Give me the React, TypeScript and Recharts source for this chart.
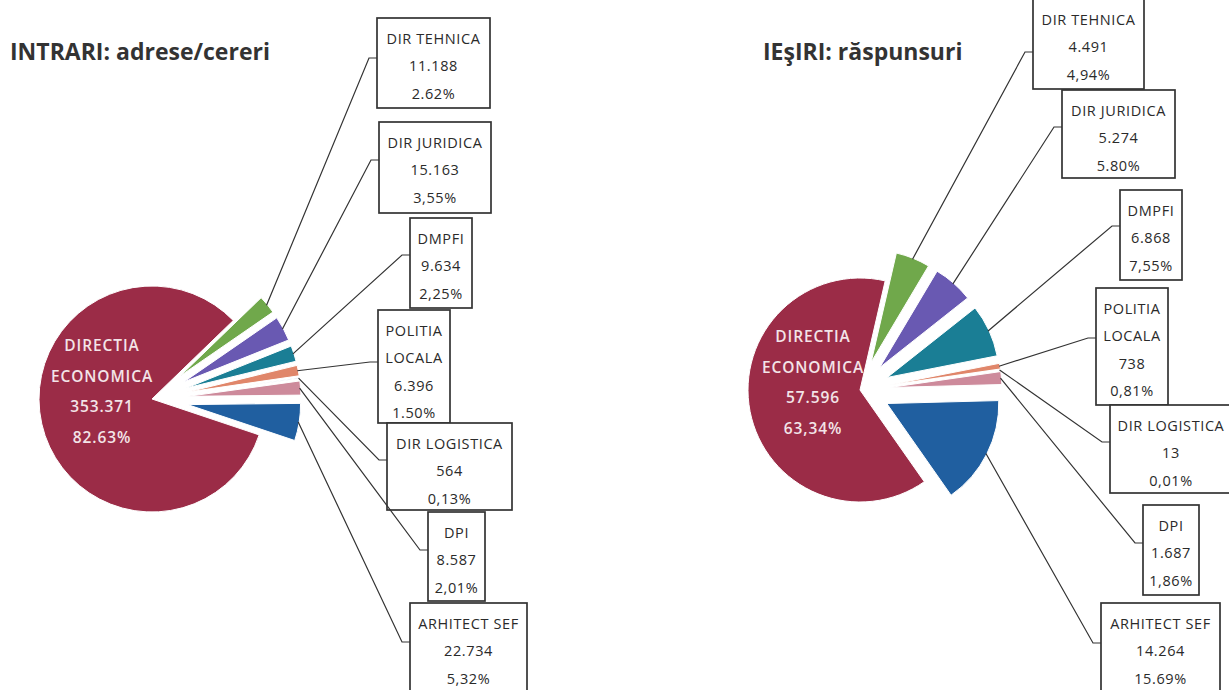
import React from 'react'
import { PieChart, Pie, Cell } from 'recharts'

const units = ['DIR TEHNICA', 'DIR JURIDICA', 'DMPFI', 'POLITIA LOCALA', 'DIR LOGISTICA', 'DPI', 'ARHITECT SEF', 'DIRECTIA ECONOMICA']
const intrari = [11188, 15163, 9634, 6396, 564, 8587, 22734, 353371]
const intrariPct = ['2.62%', '3,55%', '2,25%', '1.50%', '0,13%', '2,01%', '5,32%', '82.63%']
const iesiri = [4491, 5274, 6868, 738, 13, 1687, 14264, 57596]
const iesiriPct = ['4,94%', '5.80%', '7,55%', '0,81%', '0,01%', '1,86%', '15.69%', '63,34%']

const colors = ['#70a84b', '#6959b2', '#1a7e95', '#e0866a', '#a9b9d6', '#cd8a9b', '#205fa0', '#9b2c47']
// names that break onto two lines
const wrapped = [3, 7]

type Box = { x: number; y: number; w: number; h: number; ay: number }

const leftBoxes: Box[] = [
  { x: 377, y: 18, w: 113, h: 90, ay: 58 },
  { x: 379, y: 122, w: 112, h: 91, ay: 160 },
  { x: 410, y: 218, w: 62, h: 90, ay: 255 },
  { x: 378, y: 310, w: 72, h: 113, ay: 362 },
  { x: 387, y: 423, w: 125, h: 87, ay: 460 },
  { x: 428, y: 512, w: 57, h: 89, ay: 550 },
  { x: 410, y: 603, w: 117, h: 92, ay: 642 },
]

const rightBoxes: Box[] = [
  { x: 1033, y: -1, w: 111, h: 90, ay: 52 },
  { x: 1062, y: 90, w: 113, h: 88, ay: 127 },
  { x: 1120, y: 190, w: 62, h: 90, ay: 226 },
  { x: 1096, y: 288, w: 72, h: 117, ay: 338 },
  { x: 1110, y: 405, w: 122, h: 88, ay: 442 },
  { x: 1143, y: 505, w: 56, h: 90, ay: 543 },
  { x: 1101, y: 603, w: 119, h: 92, ay: 643 },
]

const sides = [
  {
    key: 'in', title: 'INTRARI: adrese/cereri', tx: 10, values: intrari, pct: intrariPct,
    cx: 152, cy: 399, r: 113, off: 36, start: 44, boxes: leftBoxes, ldx: -50, ldy: -8,
  },
  {
    key: 'out', title: 'IEşIRI: răspunsuri', tx: 763, values: iesiri, pct: iesiriPct,
    cx: 860, cy: 390, r: 112, off: 30, start: 77, boxes: rightBoxes, ldx: -47, ldy: -8,
  },
]

const RAD = Math.PI / 180
const FONT = '"Open Sans", "DejaVu Sans", sans-serif'

function fmt(n: number) {
  return String(n).replace(/\B(?=(\d{3})+(?!\d))/g, '.')
}

function nameLines(i: number) {
  return wrapped.includes(i) ? units[i].split(' ') : [units[i]]
}

function midAngles(values: number[], start: number) {
  const total = values.reduce((a, b) => a + b, 0)
  let acc = 0
  return values.map((v) => {
    const a0 = start - (360 * acc) / total
    acc += v
    const a1 = start - (360 * acc) / total
    return (a0 + a1) / 2
  })
}

function Callout({ p, box, lines }: { p: any; box: Box; lines: string[] }) {
  const sx = p.cx + (p.outerRadius - 1) * Math.cos(-p.midAngle * RAD)
  const sy = p.cy + (p.outerRadius - 1) * Math.sin(-p.midAngle * RAD)
  return (
    <g>
      <polyline
        points={`${sx},${sy} ${box.x - 8},${box.ay} ${box.x},${box.ay}`}
        fill="none"
        stroke="#333"
        strokeWidth={1.2}
      />
      <rect x={box.x} y={box.y} width={box.w} height={box.h} fill="#fff" stroke="#333" strokeWidth={1.7} />
      {lines.map((t, k) => (
        <text
          key={k}
          x={box.x + box.w / 2}
          y={box.y + 20 + k * 27.5}
          textAnchor="middle"
          dominantBaseline="central"
          fontFamily={FONT}
          fontSize={14.5}
          letterSpacing={0.6}
          fill="#2a2a2a"
        >
          {t}
        </text>
      ))}
    </g>
  )
}

function CenterLabel({ p, dx, dy, lines }: { p: any; dx: number; dy: number; lines: string[] }) {
  const n = lines.length
  return (
    <g>
      {lines.map((t, k) => (
        <text
          key={k}
          x={p.cx + dx}
          y={p.cy + dy + (k - (n - 1) / 2) * 30.5}
          textAnchor="middle"
          dominantBaseline="central"
          fontFamily={FONT}
          fontSize={15.5}
          fontWeight={600}
          letterSpacing={0.9}
          fill="#f3e4e8"
        >
          {t}
        </text>
      ))}
    </g>
  )
}

export default function App() {
  return (
    <div style={{ position: 'absolute', left: 0, top: 0, width: 1229, height: 690, background: '#fff', overflow: 'hidden' }}>
      {sides.map((s) => (
        <div
          key={s.key + 't'}
          style={{
            position: 'absolute', left: s.tx, top: 40, fontFamily: FONT, fontWeight: 700,
            fontSize: 23, lineHeight: 1, color: '#333', whiteSpace: 'nowrap',
          }}
        >
          {s.title}
        </div>
      ))}
      <div style={{ position: 'absolute', left: 0, top: 0 }}>
        <PieChart width={1229} height={690} margin={{ top: 0, right: 0, bottom: 0, left: 0 }}>
          {sides.flatMap((s) => {
            const rows = units.map((u, i) => ({ name: u, value: s.values[i] }))
            const mids = midAngles(s.values, s.start)
            return rows.map((_, i) => {
              const main = i === rows.length - 1
              const off = main ? 0 : s.off
              const lines = [...nameLines(i), fmt(s.values[i]), s.pct[i]]
              return (
                <Pie
                  key={s.key + i}
                  data={rows}
                  dataKey="value"
                  nameKey="name"
                  cx={s.cx + off * Math.cos(mids[i] * RAD)}
                  cy={s.cy - off * Math.sin(mids[i] * RAD)}
                  outerRadius={s.r}
                  startAngle={s.start}
                  endAngle={s.start - 360}
                  isAnimationActive={false}
                  labelLine={false}
                  label={(p: any) =>
                    p.index !== i ? (
                      <g />
                    ) : main ? (
                      <CenterLabel p={p} dx={s.ldx} dy={s.ldy} lines={lines} />
                    ) : (
                      <Callout p={p} box={s.boxes[i]} lines={lines} />
                    )
                  }
                >
                  {rows.map((_, j) => (
                    <Cell
                      key={j}
                      fill={j === i ? colors[j] : 'transparent'}
                      stroke={j === i ? '#ffffff' : 'none'}
                      strokeWidth={1}
                    />
                  ))}
                </Pie>
              )
            })
          })}
        </PieChart>
      </div>
    </div>
  )
}
